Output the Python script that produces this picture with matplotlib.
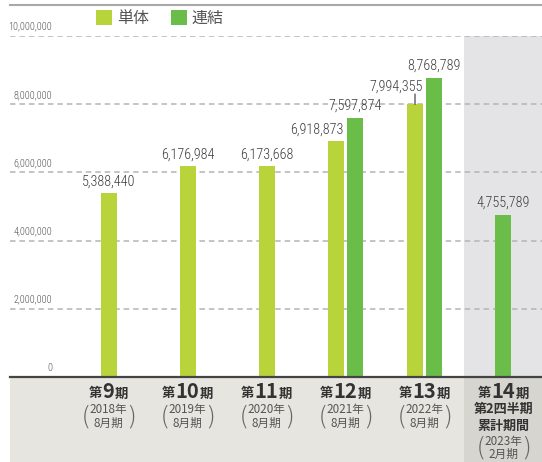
import matplotlib
matplotlib.use("Agg")
import matplotlib.pyplot as plt
from matplotlib.patches import Rectangle, Patch
from matplotlib.transforms import blended_transform_factory
from matplotlib.offsetbox import TextArea, HPacker, AnnotationBbox

# ---------------- data ----------------
periods = ["9", "10", "11", "12", "13", "14"]
years = ["2018年", "2019年", "2020年", "2021年", "2022年", "2023年"]
months = ["8月期", "8月期", "8月期", "8月期", "8月期", "2月期"]
single = [5388440, 6176984, 6173668, 6918873, 7994355, None]
consolidated = [None, None, None, 7597874, 8768789, 4755789]
yticks = [0, 2000000, 4000000, 6000000, 8000000, 10000000]
legend_labels = ["単体", "連結"]

C_SINGLE = "#b8d43a"
C_CONS = "#6bbd4a"
CJK = ["Noto Sans CJK JP", "DejaVu Sans"]
NUM = ["Roboto Condensed", "DejaVu Sans"]

W, H = 542, 462
fig = plt.figure(figsize=(W / 100, H / 100), dpi=100)
fig.patch.set_facecolor("white")

ax_l, ax_r, ax_t, ax_b = 10, 542, 36, 377
ax = fig.add_axes([ax_l / W, 1 - ax_b / H, (ax_r - ax_l) / W, (ax_b - ax_t) / H])
ax.set_facecolor("none")
spacing = 79.0
x0 = (108.5 - ax_l) / spacing
ax.set_xlim(-x0, -x0 + (ax_r - ax_l) / spacing)
ax.set_ylim(0, 10000000)
for s in ["top", "right", "left"]:
    ax.spines[s].set_visible(False)
ax.spines["bottom"].set_color("#444444")
ax.spines["bottom"].set_linewidth(1.6)
ax.spines["bottom"].set_zorder(6)
ax.set_xticks([])
ax.set_yticks([])

bt = blended_transform_factory(ax.transData, fig.transFigure)
# bottom band
fig.patches.append(Rectangle((ax_l / W, 0), (ax_r - ax_l) / W, 1 - ax_b / H,
                             transform=fig.transFigure, facecolor="#e6e5df",
                             edgecolor="none", zorder=-1))
# highlighted last column
n = len(periods)
col_left = n - 1 - 0.5
ax.add_patch(Rectangle((col_left, 1 - ax_t / H), 10, -(ax_b - ax_t) / H,
                       transform=bt, facecolor="#e4e4e7", edgecolor="none",
                       zorder=0, clip_on=False))
ax.add_patch(Rectangle((col_left, 0), 10, 1 - ax_b / H,
                       transform=bt, facecolor="#d6d5cf", edgecolor="none",
                       zorder=0.5, clip_on=False))

# top rule
fig.add_artist(plt.Line2D([ax_l / W, 1], [1 - 5 / H, 1 - 5 / H],
                          transform=fig.transFigure, color="#a8a8a8", lw=1.5))

# grid
for v in yticks[1:]:
    ax.axhline(v, color="#b4b4b4", lw=1.1, dashes=(3.6, 2.6), zorder=1)
ytr = blended_transform_factory(ax.transAxes, ax.transData)
for v in yticks:
    ax.annotate(f"{v:,}", xy=((52 - ax_l) / (ax_r - ax_l), v), xycoords=ytr,
                xytext=(0, 3), textcoords="offset points", ha="right", va="bottom",
                fontsize=7.4, fontweight="light", color="#555555", family=NUM)

bw = 16 / spacing
off = 9.5 / spacing
label_shift = {3: (-13.5, 3.5), 4: (-13.5, 8)}
for i in range(n):
    s, c = single[i], consolidated[i]
    if s is not None and c is not None:
        xs, xc = i - off, i + off
    else:
        xs = xc = i
    if s is not None:
        ax.bar(xs, s, width=bw, color=C_SINGLE, zorder=3)
        dx, dy = label_shift.get(i, (0, 3.5))
        ax.annotate(f"{s:,}", xy=(xs, s), xytext=(dx, dy), textcoords="offset points",
                    ha="center", va="bottom", fontsize=10.2, fontweight="light",
                    color="#3c3c3c", family=NUM, zorder=5)
        if i == 4:
            ax.annotate("", xy=(xs, s), xytext=(0, 7.5), textcoords="offset points",
                        arrowprops=dict(arrowstyle="-", color="#333333", lw=0.8,
                                        shrinkA=0, shrinkB=0))
    if c is not None:
        ax.bar(xc, c, width=bw, color=C_CONS, zorder=3)
        ax.annotate(f"{c:,}", xy=(xc, c), xytext=(0, 3.5), textcoords="offset points",
                    ha="center", va="bottom", fontsize=10.2, fontweight="light",
                    color="#3c3c3c", family=NUM, zorder=5)

# category labels
def fy(px):
    return 1 - px / H

for i in range(n):
    small = dict(fontsize=9.6, fontweight="bold", color="#333333", family=CJK)
    big = dict(fontsize=14.5, fontweight="bold", color="#333333", family=CJK)
    pack = HPacker(children=[TextArea("第", textprops=small),
                             TextArea(periods[i], textprops=big),
                             TextArea("期", textprops=small)],
                   align="baseline", pad=0, sep=0)
    ab = AnnotationBbox(pack, (i, fy(391)), xycoords=bt, frameon=False,
                        box_alignment=(0.5, 0.5), annotation_clip=False, zorder=7)
    ax.add_artist(ab)
    sub = dict(fontsize=8.4, color="#555555", family=CJK, ha="center", va="center",
               transform=bt, clip_on=False, zorder=7)
    if i < n - 1:
        y1, y2 = 410, 423
    else:
        ax.text(i, fy(409), "第2四半期", fontsize=9.4, fontweight="bold", color="#333333",
                family=CJK, ha="center", va="center", transform=bt, clip_on=False, zorder=7)
        ax.text(i, fy(426), "累計期間", fontsize=9.4, fontweight="bold", color="#333333",
                family=CJK, ha="center", va="center", transform=bt, clip_on=False, zorder=7)
        y1, y2 = 442, 454
    ax.text(i, fy(y1), years[i], **sub)
    ax.text(i, fy(y2), months[i], **sub)
    ym = (y1 + y2) / 2
    for sgn, ch in [(-1, "("), (1, ")")]:
        ax.annotate(ch, xy=(i, fy(ym)), xycoords=bt, xytext=(sgn * 16.5, 0),
                    textcoords="offset points", ha="center", va="center",
                    fontsize=17, fontweight="light", color="#666666", family=CJK,
                    annotation_clip=False, zorder=7)

# legend
handles = [Patch(facecolor=C_SINGLE, edgecolor="none"), Patch(facecolor=C_CONS, edgecolor="none")]
leg = fig.legend(handles, legend_labels, loc="upper left", bbox_to_anchor=(96 / W, fy(10)),
                 ncol=2, frameon=False, borderpad=0, borderaxespad=0,
                 handlelength=1.0, handleheight=1.0, handletextpad=0.3,
                 columnspacing=1.4, prop={"family": CJK, "size": 11.5})
for t in leg.get_texts():
    t.set_color("#555555")

fig.savefig("out.png", dpi=100)
